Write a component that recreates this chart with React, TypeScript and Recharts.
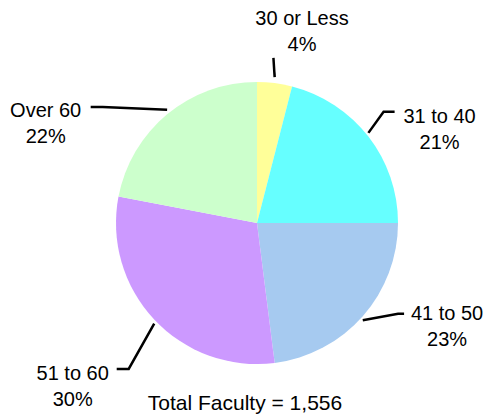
import React from 'react';
import { PieChart, Pie, Cell } from 'recharts';

const categories = ['30 or Less', '31 to 40', '41 to 50', '51 to 60', 'Over 60'];
const percents = [4, 21, 23, 30, 22];
const colors = ['#FFFF99', '#66FFFF', '#A6CAF0', '#CC99FF', '#CCFFCC'];
const totalLabel = 'Total Faculty = 1,556';

const data = categories.map((name, i) => ({ name, value: percents[i] }));

const W = 485;
const H = 420;
const CX = 257;
const CY = 223;
const R = 141;
const Y_SCALE = 1.043;
const FONT = '"Liberation Sans", Arial, sans-serif';

// label leader layout: angle shift (deg), radial extension, horizontal hook, text offset
const LABEL_LAYOUT = [
  { dAngle: -1.3, ext: 19, hook: 0, tdx: 28.6, tdy: -40 },
  { dAngle: -2.5, ext: 25, hook: 11, tdx: 45, tdy: 4 },
  { dAngle: -9.6, ext: 25, hook: 6, tdx: 43, tdy: -1 },
  { dAngle: -4.6, ext: 50, hook: -12, tdx: -44, tdy: 4 },
  { dAngle: -14.3, ext: 50, hook: -12, tdx: -45, tdy: 3 },
];

const RAD = Math.PI / 180;

function EllipseSector(props: any) {
  const { cx, cy, outerRadius, startAngle, endAngle, fill } = props;
  const rx = outerRadius;
  const ry = outerRadius * Y_SCALE;
  const p = (a: number) => [cx + rx * Math.cos(a * RAD), cy - ry * Math.sin(a * RAD)];
  const [x1, y1] = p(startAngle);
  const [x2, y2] = p(endAngle);
  const large = Math.abs(startAngle - endAngle) > 180 ? 1 : 0;
  const sweep = startAngle > endAngle ? 1 : 0;
  const d = `M${cx},${cy} L${x1},${y1} A${rx},${ry} 0 ${large} ${sweep} ${x2},${y2} Z`;
  return <path d={d} fill={fill} stroke="none" />;
}

function renderLabel(props: any) {
  const { cx, cy, midAngle, outerRadius, index, name, value } = props;
  const lay = LABEL_LAYOUT[index];
  const rx = outerRadius;
  const ry = outerRadius * Y_SCALE;
  const t = (90 - midAngle) * RAD;
  const sx = cx + rx * Math.sin(t);
  const sy = cy - ry * Math.cos(t);
  const t2 = t + lay.dAngle * RAD;
  const ex = cx + (rx + lay.ext) * Math.sin(t2);
  const ey = cy - (ry + lay.ext) * Math.cos(t2);
  const hx = ex + lay.hook;
  const tx = hx + lay.tdx;
  const ty = ey + lay.tdy;
  return (
    <g key={`lbl-${index}`}>
      <polyline
        points={`${sx},${sy} ${ex},${ey} ${hx},${ey}`}
        fill="none"
        stroke="#000"
        strokeWidth={2.5}
      />
      <text x={tx} y={ty + 7} textAnchor="middle" fontSize={20} fontFamily={FONT} fill="#000">
        {name}
      </text>
      <text x={tx} y={ty + 33} textAnchor="middle" fontSize={20} fontFamily={FONT} fill="#000">
        {`${value}%`}
      </text>
    </g>
  );
}

export default function App() {
  return (
    <div style={{ position: 'absolute', left: 0, top: 0, width: W, height: H, background: '#fff' }}>
      <PieChart width={W} height={H} margin={{ top: 0, right: 0, bottom: 0, left: 0 }}>
        <Pie
          data={data}
          dataKey="value"
          nameKey="name"
          cx={CX}
          cy={CY}
          outerRadius={R}
          innerRadius={0}
          startAngle={90}
          endAngle={-270}
          stroke="none"
          isAnimationActive={false}
          inactiveShape={EllipseSector}
          activeShape={EllipseSector}
          label={renderLabel}
          labelLine={false}
        >
          {data.map((d, i) => (
            <Cell key={d.name} fill={colors[i]} />
          ))}
        </Pie>
      </PieChart>
      <div
        style={{
          position: 'absolute',
          left: 0,
          width: 490,
          top: 391,
          textAlign: 'center',
          fontFamily: FONT,
          fontSize: 21,
          lineHeight: '24px',
          color: '#000',
          whiteSpace: 'nowrap',
        }}
      >
        {totalLabel}
      </div>
    </div>
  );
}
